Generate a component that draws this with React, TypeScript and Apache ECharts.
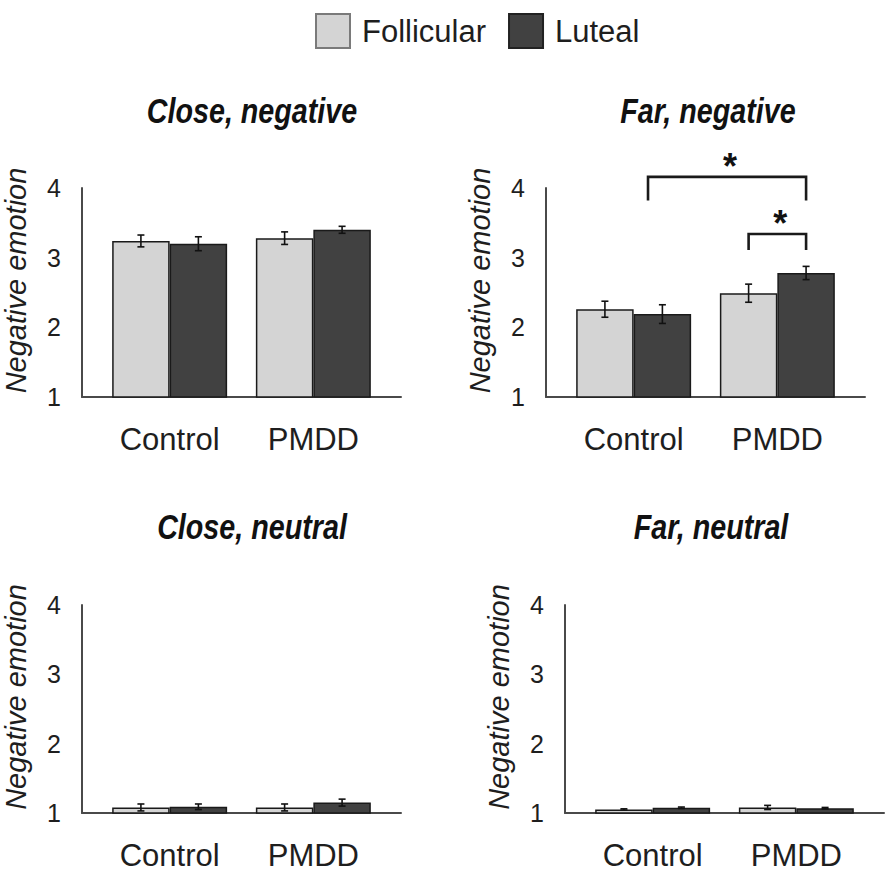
import React, { useEffect, useRef } from "react";
import * as echarts from "echarts";

// ---- data ----
const categories = ["Control", "PMDD"];
const phaseNames = ["Follicular", "Luteal"];
const panelTitles = ["Close, negative", "Far, negative", "Close, neutral", "Far, neutral"];
const yAxisName = "Negative emotion";
const yMin = 1;
const yMax = 4;

const closeNegFollicular = [3.24, 3.28];
const closeNegLuteal = [3.2, 3.4];
const closeNegFollicularErr = [0.085, 0.09];
const closeNegLutealErr = [0.1, 0.05];

const farNegFollicular = [2.26, 2.49];
const farNegLuteal = [2.19, 2.78];
const farNegFollicularErr = [0.115, 0.13];
const farNegLutealErr = [0.134, 0.095];

const closeNeuFollicular = [1.08, 1.08];
const closeNeuLuteal = [1.09, 1.15];
const closeNeuFollicularErr = [0.05, 0.05];
const closeNeuLutealErr = [0.04, 0.05];

const farNeuFollicular = [1.05, 1.08];
const farNeuLuteal = [1.076, 1.07];
const farNeuFollicularErr = [0.01, 0.03];
const farNeuLutealErr = [0.01, 0.01];

// significance brackets on "Far, negative": [x from, x to, top value, leg end value]
const farNegBrackets = [
  [0.1, 1.2, 4.16, 3.82],
  [0.8, 1.2, 3.34, 3.11],
];
const sigMark = "*";

// ---- styles ----
const FONT = "'Liberation Sans', Arial, Helvetica, sans-serif";
const LIGHT = "#d4d4d4";
const DARK = "#414141";
const TEXT = "#1e1e1e";
const AXIS = "#4a4a4a";
const BAR_W = 0.4; // fraction of one category step

const panels = [
  { title: panelTitles[0], f: closeNegFollicular, l: closeNegLuteal, fe: closeNegFollicularErr, le: closeNegLutealErr, grid: { left: 82, top: 188, width: 319, height: 209 }, titlePos: [252, 111] },
  { title: panelTitles[1], f: farNegFollicular, l: farNegLuteal, fe: farNegFollicularErr, le: farNegLutealErr, grid: { left: 546, top: 188, width: 319, height: 209 }, titlePos: [708, 111] },
  { title: panelTitles[2], f: closeNeuFollicular, l: closeNeuLuteal, fe: closeNeuFollicularErr, le: closeNeuLutealErr, grid: { left: 82, top: 605, width: 319, height: 208 }, titlePos: [252, 527] },
  { title: panelTitles[3], f: farNeuFollicular, l: farNeuLuteal, fe: farNeuFollicularErr, le: farNeuLutealErr, grid: { left: 565, top: 605, width: 319, height: 208 }, titlePos: [711, 527] },
];

function buildOption() {
  const grids: any[] = [];
  const xAxes: any[] = [];
  const yAxes: any[] = [];
  const series: any[] = [];
  const graphics: any[] = [];

  panels.forEach((p, i) => {
    grids.push({ ...p.grid, containLabel: false });
    xAxes.push({
      type: "value",
      gridIndex: i,
      min: -0.61,
      max: 1.61,
      splitNumber: 2,
      axisLine: { show: true, onZero: false, lineStyle: { color: AXIS, width: 2 } },
      axisTick: { show: false },
      splitLine: { show: false },
      axisLabel: {
        margin: 27,
        fontSize: 31,
        fontFamily: FONT,
        color: TEXT,
        showMinLabel: false,
        showMaxLabel: false,
        formatter: (v: number) => {
          const idx = Math.round(v);
          return Math.abs(v - idx) < 1e-6 && categories[idx] ? categories[idx] : "";
        },
      },
    });
    yAxes.push({
      type: "value",
      gridIndex: i,
      min: yMin,
      max: yMax,
      interval: 1,
      name: yAxisName,
      nameLocation: "middle",
      nameRotate: 90,
      nameGap: 52,
      nameTextStyle: { fontSize: 29, fontStyle: "italic", fontFamily: FONT, color: TEXT, padding: [0, 0, 0, 24] },
      axisLine: { show: true, onZero: false, lineStyle: { color: AXIS, width: 2 } },
      axisTick: { show: false },
      splitLine: { show: false },
      axisLabel: { margin: 21, fontSize: 25, fontFamily: FONT, color: TEXT },
    });

    const vals = [p.f, p.l];
    const errs = [p.fe, p.le];
    vals.forEach((arr, s) => {
      series.push({
        type: "bar",
        name: phaseNames[s],
        xAxisIndex: i,
        yAxisIndex: i,
        barWidth: BAR_W * 100 + "%",
        barGap: "0%",
        clip: true,
        itemStyle: { color: s === 0 ? LIGHT : DARK, borderColor: "#1a1a1a", borderWidth: 1.5 },
        data: arr.map((v, k) => [k, v]),
      });
    });

    const errRows: number[][] = [];
    vals.forEach((arr, s) => arr.forEach((v, k) => errRows.push([k, v, errs[s][k], s])));
    series.push({
      type: "custom",
      xAxisIndex: i,
      yAxisIndex: i,
      z: 5,
      silent: true,
      encode: { x: 0, y: 1 },
      data: errRows,
      renderItem: (_params: any, api: any) => {
        const x = api.value(0);
        const m = api.value(1);
        const e = api.value(2);
        const s = api.value(3);
        const off = (s === 0 ? -1 : 1) * (BAR_W / 2);
        const top = api.coord([x + off, m + e]);
        const bot = api.coord([x + off, m - e]);
        const cap = 3.5;
        const st = { stroke: "#111", lineWidth: 1.6 };
        return {
          type: "group",
          children: [
            { type: "line", shape: { x1: top[0], y1: top[1], x2: bot[0], y2: bot[1] }, style: st },
            { type: "line", shape: { x1: top[0] - cap, y1: top[1], x2: top[0] + cap, y2: top[1] }, style: st },
            { type: "line", shape: { x1: bot[0] - cap, y1: bot[1], x2: bot[0] + cap, y2: bot[1] }, style: st },
          ],
        };
      },
    });

    if (i === 1) {
      series.push({
        type: "custom",
        xAxisIndex: i,
        yAxisIndex: i,
        z: 6,
        silent: true,
        clip: false,
        encode: { x: 0, y: 2 },
        data: farNegBrackets,
        renderItem: (_params: any, api: any) => {
          const a = api.coord([api.value(0), api.value(2)]);
          const b = api.coord([api.value(1), api.value(2)]);
          const a2 = api.coord([api.value(0), api.value(3)]);
          const b2 = api.coord([api.value(1), api.value(3)]);
          return {
            type: "group",
            children: [
              {
                type: "polyline",
                shape: { points: [[a2[0], a2[1]], [a[0], a[1]], [b[0], b[1]], [b2[0], b2[1]]] },
                style: { stroke: "#1a1a1a", lineWidth: 2.6, fill: "none" },
              },
              {
                type: "text",
                x: (a[0] + b[0]) / 2 + 3,
                y: a[1] - 10,
                style: {
                  text: sigMark,
                  fontSize: 36,
                  fontWeight: "bold",
                  fontFamily: FONT,
                  fill: "#111",
                  align: "center",
                  verticalAlign: "middle",
                },
              },
            ],
          };
        },
      });
    }

    graphics.push({
      type: "text",
      x: p.titlePos[0],
      y: p.titlePos[1],
      scaleX: 0.82,
      style: {
        text: p.title,
        fontSize: 35,
        fontWeight: "bold",
        fontStyle: "italic",
        fontFamily: FONT,
        fill: "#111",
        align: "center",
        verticalAlign: "middle",
      },
    });
  });

  return {
    animation: false,
    backgroundColor: "#ffffff",
    legend: {
      left: 310,
      top: 8,
      itemWidth: 34,
      itemHeight: 34,
      itemGap: 22,
      icon: "rect",
      selectedMode: false,
      textStyle: { fontSize: 31, fontFamily: FONT, color: TEXT, padding: [0, 0, 0, 7] },
      data: [
        { name: phaseNames[0], itemStyle: { color: LIGHT, borderColor: "#7a7a7a", borderWidth: 2 } },
        { name: phaseNames[1], itemStyle: { color: DARK, borderColor: "#222", borderWidth: 2 } },
      ],
    },
    grid: grids,
    xAxis: xAxes,
    yAxis: yAxes,
    series,
    graphic: graphics,
  };
}

export default function App() {
  const ref = useRef<HTMLDivElement>(null);
  useEffect(() => {
    if (!ref.current) return;
    const chart = echarts.init(ref.current, undefined, { renderer: "svg" });
    chart.setOption(buildOption() as any);
    return () => chart.dispose();
  }, []);
  return (
    <div
      ref={ref}
      style={{ position: "absolute", left: 0, top: 0, width: 887, height: 875, background: "#fff" }}
    />
  );
}
